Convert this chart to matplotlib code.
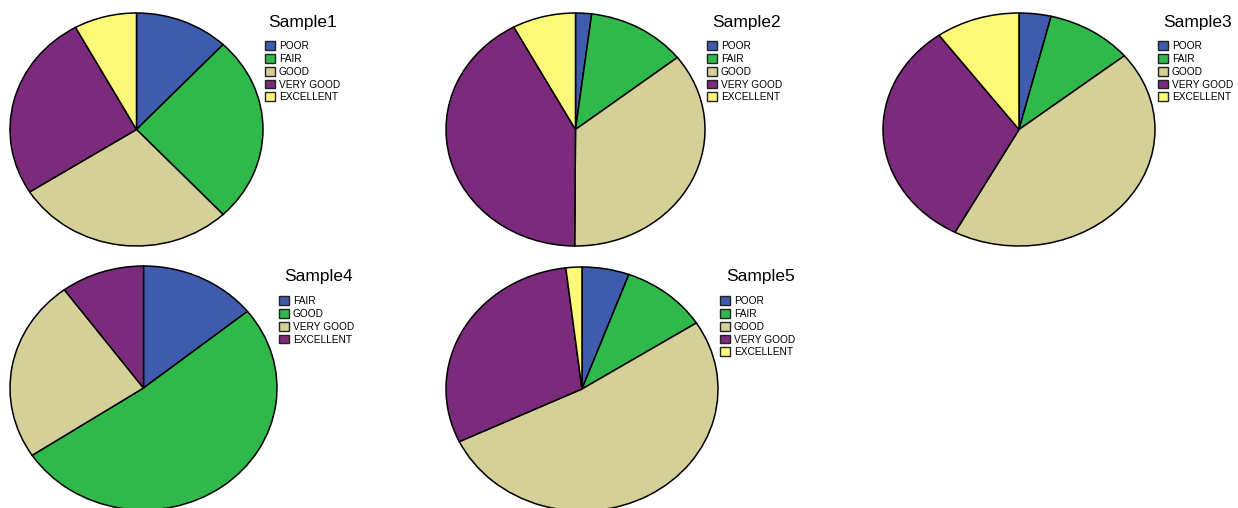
import matplotlib
matplotlib.use("Agg")
import matplotlib.pyplot as plt

W, H = 1238, 508

categories = ["POOR", "FAIR", "GOOD", "VERY GOOD", "EXCELLENT"]
colors = ["#3f5bae", "#2fb94a", "#d5cf98", "#7c2a7c", "#fbf977"]

names = ["Sample1", "Sample2", "Sample3", "Sample4", "Sample5"]
labels = [
    categories,
    categories,
    categories,
    ["FAIR", "GOOD", "VERY GOOD", "EXCELLENT"],
    categories,
]
values = [
    [12, 26, 28, 26, 8],
    [2, 12.4, 35.7, 42, 7.9],
    [3.8, 10.3, 43.7, 32.2, 10],
    [14.2, 51.5, 24.2, 10.1],
    [5.6, 10.3, 52, 30.2, 1.9],
]

# pie ellipse boxes (left, top, width, height) in pixels
boxes = [(10, 13, 253, 233), (446, 13, 259, 233), (883, 13, 272, 233),
         (10, 266, 267, 244), (446, 267, 272, 244)]
# title position (x, y center) and legend top-left in pixels
title_at = [(268, 23), (712, 23), (1163, 23), (284, 277), (726, 277)]
legend_at = [(265, 41), (707, 41), (1158, 41), (279, 296), (720, 296)]

plt.rcParams["font.family"] = ["Liberation Sans", "DejaVu Sans"]
fig = plt.figure(figsize=(W / 100, H / 100), dpi=100)

for i in range(5):
    l, t, w, h = boxes[i]
    ax = fig.add_axes([l / W, 1 - (t + h) / H, w / W, h / H])
    wedges, _ = ax.pie(values[i], colors=colors[:len(values[i])],
                       startangle=90, counterclock=False, radius=1,
                       wedgeprops=dict(edgecolor="black", linewidth=1.1))
    ax.set_aspect("auto")
    ax.set_xlim(-1.0, 1.0)
    ax.set_ylim(-1.0, 1.0)
    ax.axis("off")

    tx, ty = title_at[i]
    fig.text(tx / W, 1 - ty / H, names[i], fontsize=12.5,
             ha="left", va="center")

    lx, ly = legend_at[i]
    leg = fig.legend(wedges, labels[i], loc="upper left",
                     bbox_to_anchor=(lx / W, 1 - ly / H),
                     fontsize=7.3, frameon=False, borderpad=0,
                     borderaxespad=0, handlelength=0.95, handleheight=0.95,
                     handletextpad=0.4, labelspacing=0.28)
    for p in leg.get_patches():
        p.set_linewidth(1.0)
        p.set_edgecolor("#222222")

fig.savefig("out.png", dpi=100)
